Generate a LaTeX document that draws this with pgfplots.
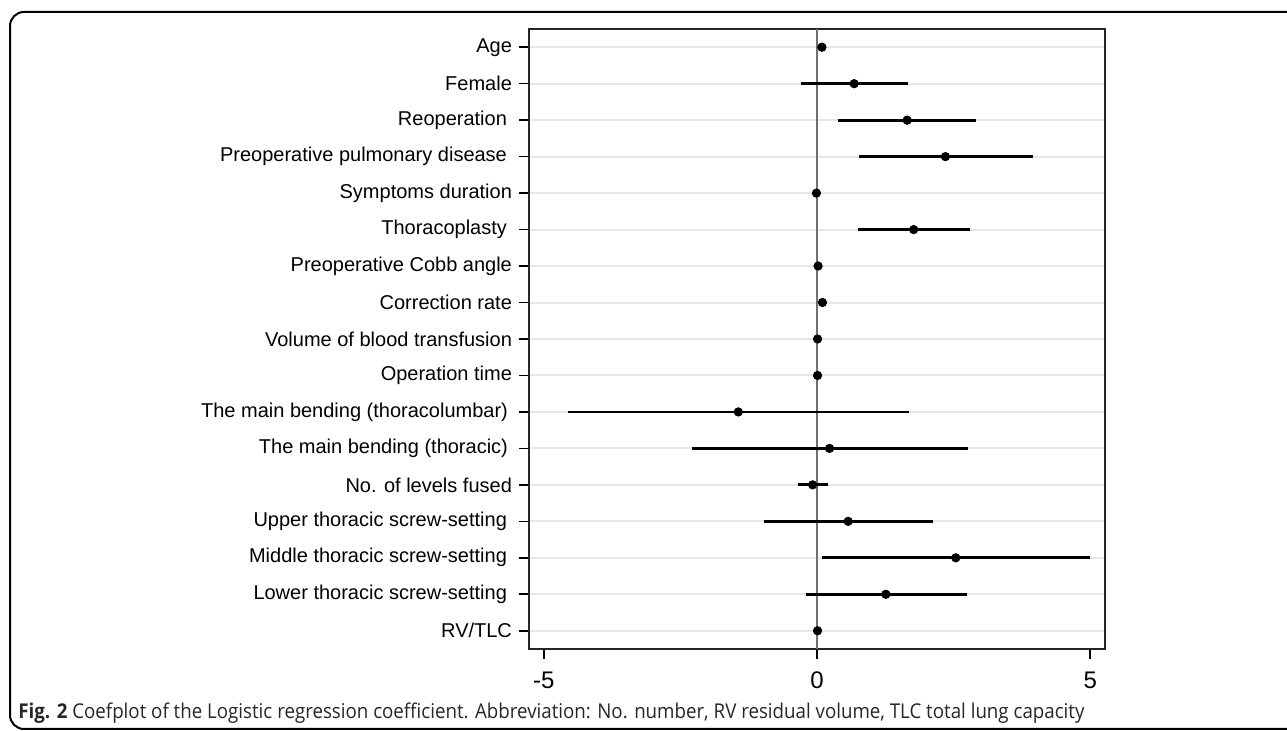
\documentclass[border=0pt]{standalone}
\usepackage{fontspec}
\setmainfont{Liberation Sans}
\newfontfamily\capfont{Open Sans}
\usepackage{graphicx}
\usepackage{pgfplots}
\usepackage{pgfplotstable}
\pgfplotsset{compat=1.18}

\definecolor{gridgray}{HTML}{E6E6E6}
\definecolor{zerogray}{HTML}{707070}

% y position (top = 16), coefficient, lower and upper CI bound
\pgfplotstableread{
y  coef   lo     hi
16  0.09  0.06   0.12
15  0.68 -0.29   1.67
14  1.65  0.38   2.91
13  2.35  0.76   3.96
12 -0.01 -0.03   0.01
11  1.77  0.75   2.80
10  0.02  0.00   0.03
9   0.10  0.08   0.12
8   0.01  0.00   0.02
7   0.01  0.00   0.02
6  -1.44 -4.56   1.68
5   0.23 -2.29   2.76
4  -0.08 -0.35   0.20
3   0.57 -0.97   2.13
2   2.54  0.10   5.00
1   1.26 -0.20   2.74
0   0.01  0.00   0.02
}\coefdata

\begin{document}
\begin{tikzpicture}
\useasboundingbox (0pt,0pt) rectangle (643.5pt,365.5pt);
\draw[line width=1pt, rounded corners=7pt] (5pt,1pt) rectangle (700pt,359.5pt);

\begin{axis}[
    at={(264.5pt,41pt)}, anchor=south west,
    scale only axis, width=288pt, height=310pt,
    xmin=-5.27, xmax=5.27,
    ymin=-0.5, ymax=16.5,
    xtick={-5,0,5},
    ytick={0,...,16},
    yticklabels={RV/TLC,
        Lower thoracic screw-setting\kern2.5pt,
        Middle thoracic screw-setting\kern2.5pt,
        Upper thoracic screw-setting\kern2.5pt,
        No. of levels fused,
        The main bending (thoracic)\kern2pt,
        The main bending (thoracolumbar)\kern2pt,
        Operation time,
        Volume of blood transfusion,
        Correction rate,
        Preoperative Cobb angle,
        Thoracoplasty\kern2.5pt,
        Symptoms duration,
        Preoperative pulmonary disease\kern2.5pt,
        Reoperation\kern2.5pt,
        Female,
        Age},
    tick align=outside,
    xtick pos=bottom, ytick pos=left,
    major tick length=5pt,
    tick style={black, line width=0.8pt},
    ymajorgrids,
    grid style={gridgray, line width=1pt},
    axis line style={black!85, line width=0.9pt},
    yticklabel style={font=\fontsize{10}{12}\selectfont},
    xticklabel style={font=\fontsize{12}{14}\selectfont, yshift=-3pt},
    /pgf/number format/assume math mode=true,
]
\draw[zerogray, line width=0.8pt] (axis cs:0,-0.5) -- (axis cs:0,16.5);
\addplot[only marks, mark=*, mark size=2.1pt, black,
    error bars/.cd, x dir=both, x explicit, error mark=none,
    error bar style={line width=1.4pt, black}]
  table[x=coef, y=y,
    x error plus expr=\thisrow{hi}-\thisrow{coef},
    x error minus expr=\thisrow{coef}-\thisrow{lo}] {\coefdata};
\end{axis}

\node[anchor=base west, inner sep=0pt] at (9pt,6pt)
  {\resizebox{533pt}{7.8pt}{\capfont\color{black!85}\textbf{Fig. 2} Coefplot of the Logistic regression coefficient. Abbreviation: No. number, RV residual volume, TLC total lung capacity}};
\end{tikzpicture}
\end{document}
